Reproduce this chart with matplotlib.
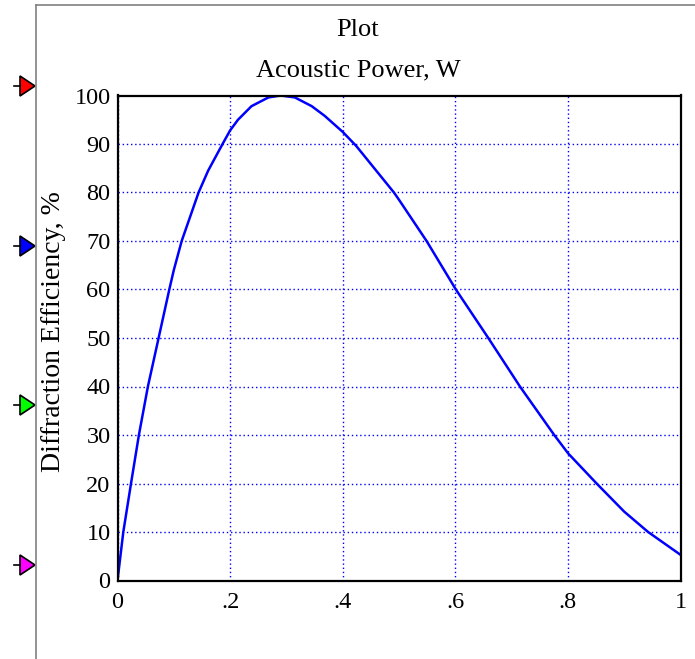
import matplotlib
matplotlib.use("Agg")
import matplotlib.pyplot as plt
from matplotlib.patches import Polygon
from matplotlib.lines import Line2D

# values
power = [0.0, 0.0103, 0.024, 0.038, 0.054, 0.073, 0.092, 0.1, 0.114,
         0.144, 0.161, 0.1866, 0.2, 0.214, 0.238, 0.268, 0.29, 0.315, 0.345,
         0.368, 0.4, 0.424, 0.491, 0.5, 0.549, 0.601, 0.6586, 0.7148, 0.7757,
         0.8005, 0.851, 0.9, 0.9425, 1.0]
efficiency = [0.0, 10, 20, 30, 40, 50, 60, 64, 70,
              80, 84.5, 90, 92.8, 95.0, 97.8, 99.6, 100, 99.6, 97.8,
              95.8, 92.5, 89.6, 80, 78.5, 70, 60, 50, 40, 30,
              26.2, 20, 14.2, 10, 5.3]
x_ticks = [0, 0.2, 0.4, 0.6, 0.8, 1.0]
x_labels = ["0", ".2", ".4", ".6", ".8", "1"]
y_ticks = list(range(0, 101, 10))
marker_colors = ["#ff0000", "#0000ff", "#00ff00", "#ff00ff"]
marker_rows = [86, 246, 405, 565]  # pixel rows of the side markers

plt.rcParams['font.family'] = ['Liberation Serif', 'DejaVu Serif']

W, H = 695, 659
fig = plt.figure(figsize=(W / 100, H / 100), dpi=100)
ax = fig.add_axes([117.5 / W, (H - 580.5) / H, 563 / W, 485 / H])

ax.plot(power, efficiency, color="#0000ff", linewidth=1.8)

ax.set_xlim(0, 1)
ax.set_ylim(0, 100)
ax.set_xticks(x_ticks)
ax.set_xticklabels(x_labels)
ax.set_yticks(y_ticks)
ax.tick_params(length=0, labelsize=17.5, colors="black")
ax.tick_params(axis="x", pad=8)
ax.tick_params(axis="y", pad=5)
ax.grid(True, color="#0000ff", linestyle=(0, (1, 2)), linewidth=1.0)
for s in ax.spines.values():
    s.set_linewidth(1.6)
    s.set_color("black")

fig.text(53 / W, 1 - 332 / H, "Diffraction Efficiency, %", rotation=90,
         ha="center", va="center", fontsize=20)
fig.text(358 / W, 1 - 30 / H, "Plot", ha="center", va="center", fontsize=19)
fig.text(358 / W, 1 - 70 / H, "Acoustic Power, W", ha="center", va="center", fontsize=19)

# left frame and side markers
fig.add_artist(Line2D([36 / W, 36 / W], [0, 1 - 5 / H], transform=fig.transFigure,
                      color="#808080", linewidth=1.2))
fig.add_artist(Line2D([36 / W, 1], [1 - 5 / H, 1 - 5 / H], transform=fig.transFigure,
                      color="#808080", linewidth=1.2))
for c, row in zip(marker_colors, marker_rows):
    yf = 1 - row / H
    fig.add_artist(Line2D([14 / W, 20 / W], [yf, yf], transform=fig.transFigure,
                          color="black", linewidth=1.2))
    tri = Polygon([[20 / W, yf + 10 / H], [20 / W, yf - 10 / H], [35 / W, yf]],
                  closed=True, transform=fig.transFigure, facecolor=c,
                  edgecolor="black", linewidth=1.2)
    fig.add_artist(tri)

fig.savefig("out.png", dpi=100)
